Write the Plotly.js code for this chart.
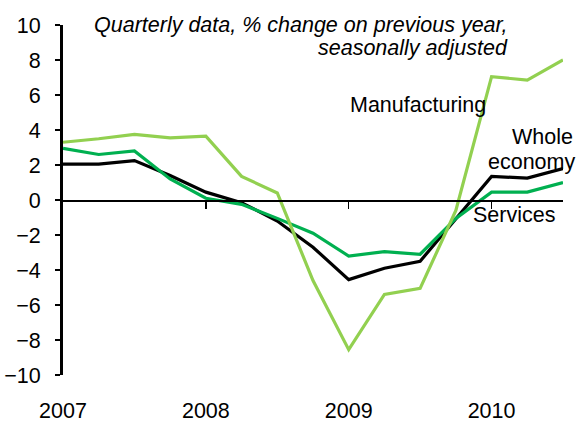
<!DOCTYPE html>
<html>
<head>
<meta charset="utf-8">
<script src="https://cdn.plot.ly/plotly-3.0.1.min.js"></script>
<style>html,body{margin:0;padding:0;background:#fff;}#chart{width:578px;height:423px;}</style>
</head>
<body>
<div id="chart"></div>
<script>
// Quarterly positions: 0 = 2007 Q1 ... 14 = 2010 Q3
const quarters = [0,1,2,3,4,5,6,7,8,9,10,11,12,13,14];
const manufacturing = [3.3, 3.5, 3.75, 3.55, 3.65, 1.35, 0.4, -4.6, -8.55, -5.4, -5.05, -0.6, 7.05, 6.85, 8.0];
const wholeEconomy  = [2.05, 2.05, 2.25, 1.4, 0.45, -0.15, -1.2, -2.7, -4.55, -3.9, -3.5, -1.1, 1.35, 1.25, 1.8];
const services      = [2.95, 2.6, 2.8, 1.2, 0.1, -0.25, -1.05, -1.9, -3.2, -2.95, -3.1, -1.05, 0.45, 0.45, 1.0];
const yearTickVals = [0, 4, 8, 12];
const yearTickText = ['2007', '2008', '2009', '2010'];
const innerTickVals = [4, 8, 12];
const yTickVals = [-10,-8,-6,-4,-2,0,2,4,6,8,10];

const FONT = 'Liberation Sans, Arial, sans-serif';
const FS = 21.5;
const lineW = 3.2;

const traces = [
  {x: quarters, y: wholeEconomy, mode: 'lines', name: 'Whole economy',
   xaxis: 'x', yaxis: 'y', line: {color: '#000000', width: lineW}},
  {x: quarters, y: services, mode: 'lines', name: 'Services',
   xaxis: 'x', yaxis: 'y', line: {color: '#00B050', width: lineW}},
  {x: quarters, y: manufacturing, mode: 'lines', name: 'Manufacturing',
   xaxis: 'x2', yaxis: 'y', line: {color: '#92D050', width: lineW}}
];

const layout = {
  width: 578, height: 423,
  margin: {l: 63, r: 15, t: 25, b: 48},
  paper_bgcolor: '#fff', plot_bgcolor: 'rgba(0,0,0,0)',
  showlegend: false,
  font: {family: FONT, size: FS, color: '#000'},
  xaxis: {
    range: [0, 14], tickvals: yearTickVals, ticktext: yearTickText,
    showgrid: false, zeroline: false, showline: false, ticks: '',
    ticklabelstandoff: 20, tickfont: {size: FS}, fixedrange: true
  },
  xaxis2: {
    range: [0, 14], overlaying: 'x', anchor: 'free', position: 0.5, side: 'bottom',
    tickvals: innerTickVals, showticklabels: false,
    showgrid: false, zeroline: false, showline: true, linecolor: '#000', linewidth: 1.5,
    ticks: 'outside', ticklen: 7, tickwidth: 1.5, tickcolor: '#000'
  },
  yaxis: {
    range: [-10, 10], tickvals: yTickVals, showgrid: false, zeroline: false,
    showline: true, linecolor: '#000', linewidth: 3,
    ticks: 'outside', ticklen: 5, tickwidth: 2.5, tickcolor: '#000',
    ticklabelstandoff: 10, tickfont: {size: FS}
  },
  annotations: [
    {text: 'Quarterly data, % change on previous year,', xref: 'paper', yref: 'paper',
     x: 0.894, y: 1.0, xanchor: 'right', yanchor: 'middle', showarrow: false,
     font: {size: FS, style: 'italic'}},
    {text: 'seasonally adjusted', xref: 'paper', yref: 'paper',
     x: 0.894, y: 0.934, xanchor: 'right', yanchor: 'middle', showarrow: false,
     font: {size: FS, style: 'italic'}},
    {text: 'Manufacturing', xref: 'paper', yref: 'paper',
     x: 0.570, y: 0.771, xanchor: 'left', yanchor: 'middle', showarrow: false},
    {text: 'Whole', xref: 'paper', yref: 'paper',
     x: 1.024, y: 0.68, xanchor: 'right', yanchor: 'middle', showarrow: false},
    {text: 'economy', xref: 'paper', yref: 'paper',
     x: 1.028, y: 0.609, xanchor: 'right', yanchor: 'middle', showarrow: false},
    {text: 'Services', xref: 'paper', yref: 'paper',
     x: 0.816, y: 0.457, xanchor: 'left', yanchor: 'middle', showarrow: false}
  ]
};

Plotly.newPlot('chart', traces, layout, {displayModeBar: false, staticPlot: true});
</script>
</body>
</html>
